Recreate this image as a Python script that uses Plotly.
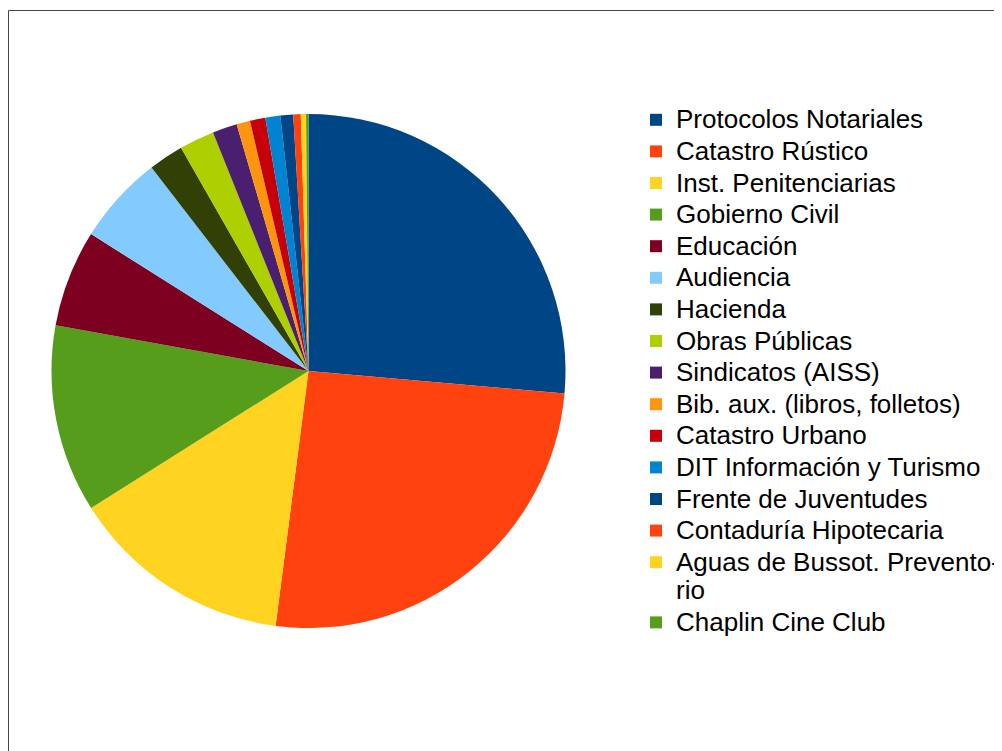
import plotly.graph_objects as go

labels = [
    "Protocolos Notariales", "Catastro Rústico", "Inst. Penitenciarias",
    "Gobierno Civil", "Educación", "Audiencia", "Hacienda", "Obras Públicas",
    "Sindicatos (AISS)", "Bib. aux. (libros, folletos)", "Catastro Urbano",
    "DIT Información y Turismo", "Frente de Juventudes", "Contaduría Hipotecaria",
    "Aguas de Bussot. Prevento-<br>rio", "Chaplin Cine Club",
]
values = [26.4, 25.65, 14.0, 11.8, 6.1, 5.6, 2.2, 2.2, 1.55, 0.85, 0.97, 0.94,
          0.8, 0.47, 0.33, 0.15]
colors = ["#004586", "#ff420e", "#ffd320", "#579d1c", "#7e0021", "#83caff",
          "#314004", "#aecf00", "#4b1f6f", "#ff950e", "#c5000b", "#0084d1",
          "#004586", "#ff420e", "#ffd320", "#579d1c"]

W, H = 1002, 751
# page body has an 8px margin; coordinates below are in figure space
cx, cy, r = 300.5, 363, 257

display = ["<br>".join(f'<span style="font-size:26px">{p}</span>' for p in l.split("<br>"))
           for l in labels]

fig = go.Figure(go.Pie(
    labels=display, values=values, sort=False, direction="clockwise",
    rotation=0, textinfo="none", hoverinfo="label+percent",
    marker=dict(colors=colors, line=dict(width=0)),
    domain=dict(x=[(cx - r) / W, (cx + r) / W],
                y=[(H - cy - r) / H, (H - cy + r) / H]),
))

fig.update_layout(
    width=W, height=H, margin=dict(l=0, r=0, t=0, b=0),
    paper_bgcolor="white", plot_bgcolor="white",
    font=dict(family="Liberation Sans, Arial, sans-serif", color="black"),
    showlegend=True,
    legend=dict(x=628 / W, xanchor="left", y=1 - 91 / H, yanchor="top",
                font=dict(size=22, color="black", family="Liberation Sans, Arial, sans-serif"),
                valign="top", bgcolor="rgba(0,0,0,0)", borderwidth=0,
                traceorder="normal"),
    shapes=[dict(type="rect", xref="paper", yref="paper",
                 x0=0.5 / W, x1=1.05, y0=-0.05, y1=1 - 2.5 / H,
                 line=dict(color="#444444", width=1), fillcolor="rgba(0,0,0,0)",
                 layer="below")],
)

fig.write_html("out.html")
